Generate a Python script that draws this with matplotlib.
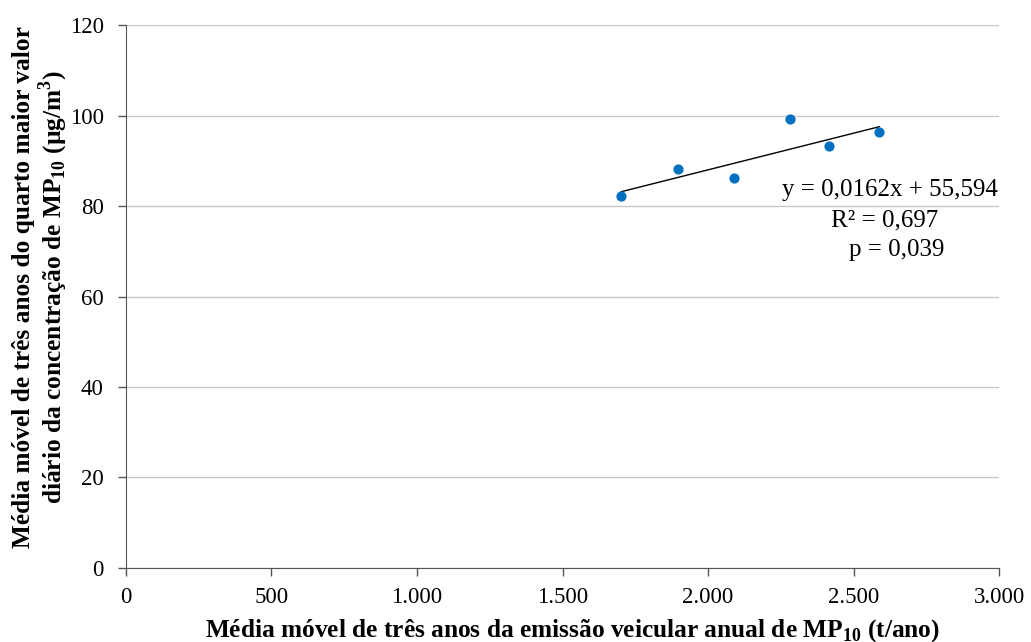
import matplotlib.pyplot as plt
import numpy as np

plt.rcParams["font.family"] = ["Liberation Serif", "DejaVu Serif"]
plt.rcParams["mathtext.fontset"] = "custom"
plt.rcParams["mathtext.rm"] = "Liberation Serif"
plt.rcParams["mathtext.bf"] = "Liberation Serif:bold"

# --- Moving averages (3 years) ---
emissao = [1702, 1896, 2089, 2280, 2416, 2589]      # t/ano
concentracao = [82.2, 88.2, 86.2, 99.2, 93.3, 96.3]  # µg/m3

# --- Linear fit shown on chart ---
slope = 0.0162
intercept = 55.594
r2_txt = "0,697"
p_txt = "0,039"

x_ticks = [0, 500, 1000, 1500, 2000, 2500, 3000]
x_ticklabels = ["0", "500", "1.000", "1.500", "2.000", "2.500", "3.000"]
y_ticks = [0, 20, 40, 60, 80, 100, 120]

fig = plt.figure(figsize=(10.31, 6.42), dpi=100)
ax = fig.add_axes([0.1222, 0.1153, 0.8468, 0.8457])

ax.scatter(emissao, concentracao, s=40, color="#0070C0", zorder=3)

xf = np.array([min(emissao), max(emissao)])
ax.plot(xf, slope * xf + intercept, color="black", lw=1, zorder=2)

ax.text(2625, 83.5, "y = 0,0162x + 55,594", ha="center", va="center", fontsize=18)
ax.text(2608, 76.9, "R² = " + r2_txt, ha="center", va="center", fontsize=18)
ax.text(2648, 70.3, "p = " + p_txt, ha="center", va="center", fontsize=18)

ax.set_xlim(0, 3000)
ax.set_ylim(0, 120)
ax.set_xticks(x_ticks)
ax.set_xticklabels(x_ticklabels)
ax.set_yticks(y_ticks)
ax.tick_params(labelsize=16.5, length=6, width=1, color="#555555", direction="out")
ax.tick_params(axis="x", pad=8)
ax.tick_params(axis="y", pad=10)
ax.grid(axis="y", color="#c8c8c8", lw=1)
ax.set_axisbelow(True)
for s in ["top", "right"]:
    ax.spines[s].set_visible(False)
for s in ["left", "bottom"]:
    ax.spines[s].set_color("#555555")

ax.set_xlabel(r"Média móvel de três anos da emissão veicular anual de MP$_\mathbf{10}$ (t/ano)",
              fontsize=18.3, fontweight="bold")
ax.set_ylabel("Média móvel de três anos do quarto maior valor\n"
              r"diário da concentração de MP$_\mathbf{10}$ (µg/m$^\mathbf{3}$)",
              fontsize=18.3, fontweight="bold", linespacing=1.1)
ax.xaxis.set_label_coords(0.511, -0.090)
ax.yaxis.set_label_coords(-0.064, 0.517)

fig.savefig("out.png", dpi=100)
